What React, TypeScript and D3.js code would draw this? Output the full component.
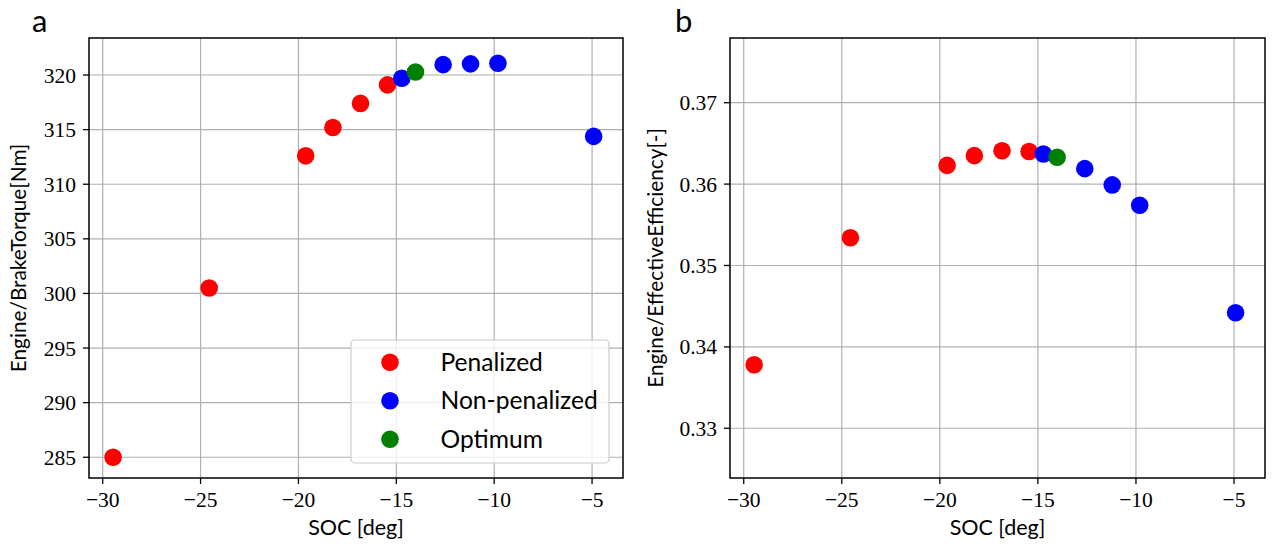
import React from "react";
import * as d3 from "d3";

const socPenalized = [-29.47, -24.56, -19.63, -18.24, -16.83, -15.45];
const torquePenalized = [285.0, 300.5, 312.6, 315.2, 317.4, 319.1];
const effPenalized = [0.3378, 0.3534, 0.3623, 0.3635, 0.3641, 0.364];

const socNonPenalized = [-14.72, -12.61, -11.21, -9.81, -4.92];
const torqueNonPenalized = [319.7, 320.95, 321.02, 321.08, 314.38];
const effNonPenalized = [0.3637, 0.3619, 0.3599, 0.3574, 0.3442];

const socOptimum = [-14.02];
const torqueOptimum = [320.28];
const effOptimum = [0.3633];

const xTicks = [-30, -25, -20, -15, -10, -5];
const torqueTicks = [285, 290, 295, 300, 305, 310, 315, 320];
const effTicks = [0.33, 0.34, 0.35, 0.36, 0.37];

const legendLabels = ["Penalized", "Non-penalized", "Optimum"];
const seriesColors = ["#ff0000", "#0000ff", "#008000"];

const SANS = "Lato, 'Open Sans', sans-serif";
const SERIF = "'Liberation Serif', 'DejaVu Serif', serif";

type PanelProps = {
  left: number;
  right: number;
  top: number;
  bottom: number;
  yDomain: [number, number];
  yTicks: number[];
  yFormat: (v: number) => string;
  series: { x: number[]; y: number[]; color: string }[];
  yLabel: string;
  yLabelX: number;
  letter: string;
  letterX: number;
  legend?: boolean;
};

const fmtMinus = (s: string) => s.replace("-", "\u2212");

function Panel(p: PanelProps) {
  const x = d3.scaleLinear().domain([-30.7, -3.42]).range([p.left, p.right]);
  const y = d3.scaleLinear().domain(p.yDomain).range([p.bottom, p.top]);
  const r = 8.8;
  const cx = (p.left + p.right) / 2;
  const cy = (p.top + p.bottom) / 2;
  return (
    <g>
      {xTicks.map((t) => (
        <line key={"gx" + t} x1={x(t)} x2={x(t)} y1={p.top} y2={p.bottom} stroke="#b0b0b0" strokeWidth={1.2} />
      ))}
      {p.yTicks.map((t) => (
        <line key={"gy" + t} x1={p.left} x2={p.right} y1={y(t)} y2={y(t)} stroke="#b0b0b0" strokeWidth={1.2} />
      ))}
      {p.series.map((s, si) =>
        s.x.map((xv, i) => (
          <circle key={si + "-" + i} cx={x(xv)} cy={y(s.y[i])} r={r} fill={s.color} />
        ))
      )}
      <rect x={p.left} y={p.top} width={p.right - p.left} height={p.bottom - p.top} fill="none" stroke="#000" strokeWidth={1.5} />
      {xTicks.map((t) => (
        <g key={"tx" + t}>
          <line x1={x(t)} x2={x(t)} y1={p.bottom} y2={p.bottom + 6} stroke="#000" strokeWidth={1.3} />
          <text x={x(t)} y={p.bottom + 29} textAnchor="middle" fontFamily={SERIF} fontSize={21.5} fill="#000">
            {fmtMinus(String(t))}
          </text>
        </g>
      ))}
      {p.yTicks.map((t) => (
        <g key={"ty" + t}>
          <line x1={p.left - 6} x2={p.left} y1={y(t)} y2={y(t)} stroke="#000" strokeWidth={1.3} />
          <text x={p.left - 13} y={y(t) + 7.5} textAnchor="end" fontFamily={SERIF} fontSize={21.5} fill="#000">
            {p.yFormat(t)}
          </text>
        </g>
      ))}
      <text x={cx} y={p.bottom + 57} textAnchor="middle" fontFamily={SANS} fontSize={21.5} fill="#000">
        SOC [deg]
      </text>
      <text
        transform={`translate(${p.yLabelX},${cy}) rotate(-90)`}
        textAnchor="middle"
        fontFamily={SANS}
        fontSize={20.8}
        fill="#000"
      >
        {p.yLabel}
      </text>
      <text x={p.letterX} y={32} fontFamily={SANS} fontSize={31} fill="#000">
        {p.letter}
      </text>
      {p.legend && (
        <g>
          <rect x={351} y={340} width={258} height={123} rx={4} fill="#fff" fillOpacity={0.8} stroke="#cccccc" strokeWidth={1.2} />
          {legendLabels.map((lab, i) => (
            <g key={lab}>
              <circle cx={390} cy={362.3 + i * 38.5} r={r} fill={seriesColors[i]} />
              <text x={440.5} y={362.3 + i * 38.5 + 8.5} fontFamily={SANS} fontSize={24.6} fill="#000">
                {lab}
              </text>
            </g>
          ))}
        </g>
      )}
    </g>
  );
}

export default function App() {
  return (
    <div style={{ position: "absolute", left: 0, top: 0 }}>
      <svg width={1275} height={549} style={{ display: "block", background: "#fff" }}>
        <Panel
          left={89}
          right={623}
          top={38}
          bottom={478}
          yDomain={[283.1, 323.39]}
          yTicks={torqueTicks}
          yFormat={(v) => String(v)}
          series={[
            { x: socPenalized, y: torquePenalized, color: seriesColors[0] },
            { x: socNonPenalized, y: torqueNonPenalized, color: seriesColors[1] },
            { x: socOptimum, y: torqueOptimum, color: seriesColors[2] },
          ]}
          yLabel="Engine/BrakeTorque[Nm]"
          yLabelX={26}
          letter="a"
          letterX={32}
          legend
        />
        <Panel
          left={730}
          right={1265}
          top={38}
          bottom={478}
          yDomain={[0.32389, 0.37795]}
          yTicks={effTicks}
          yFormat={(v) => v.toFixed(2)}
          series={[
            { x: socPenalized, y: effPenalized, color: seriesColors[0] },
            { x: socNonPenalized, y: effNonPenalized, color: seriesColors[1] },
            { x: socOptimum, y: effOptimum, color: seriesColors[2] },
          ]}
          yLabel="Engine/EffectiveEfficiency[-]"
          yLabelX={663}
          letter="b"
          letterX={675}
        />
      </svg>
    </div>
  );
}
